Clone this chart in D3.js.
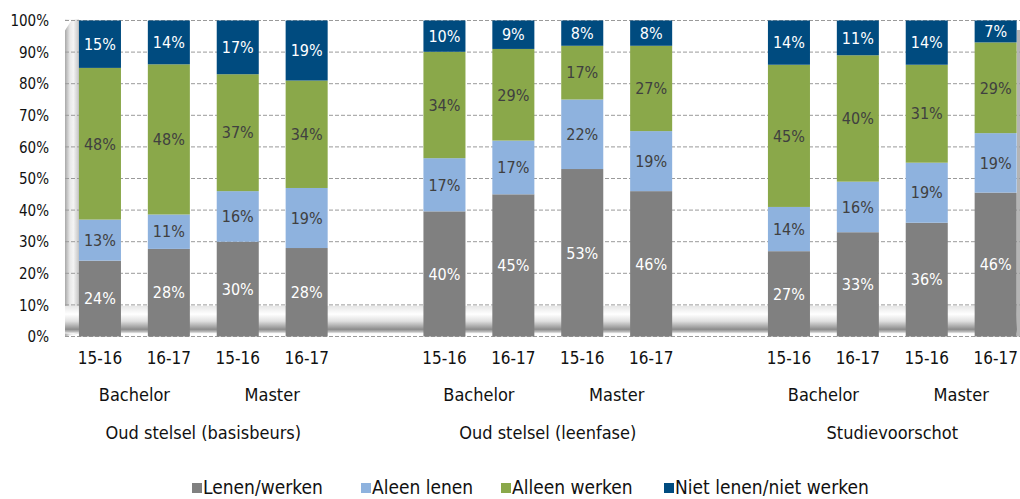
<!DOCTYPE html>
<html><head><meta charset="utf-8">
<script src="https://cdn.jsdelivr.net/npm/d3@7"></script>
<style>
html,body{margin:0;padding:0;background:#fff;}
svg{display:block;}
text{font-family:"DejaVu Sans Condensed","Liberation Sans Narrow",sans-serif;}
</style></head>
<body>
<svg id="chart" width="1020" height="499"></svg>
<script>
// ---- data ----
const groupLabels = ["Oud stelsel (basisbeurs)", "Oud stelsel (leenfase)", "Studievoorschot"];
const levelLabels = ["Bachelor", "Master"];
const yearLabels = ["15-16","16-17","15-16","16-17","15-16","16-17","15-16","16-17","15-16","16-17","15-16","16-17"];
const seriesNames = ["Lenen/werken", "Aleen lenen", "Alleen werken", "Niet lenen/niet werken"];
const lenenWerken   = [24, 28, 30, 28, 40, 45, 53, 46, 27, 33, 36, 46];
const aleenLenen    = [13, 11, 16, 19, 17, 17, 22, 19, 14, 16, 19, 19];
const alleenWerken  = [48, 48, 37, 34, 34, 29, 17, 27, 45, 40, 31, 29];
const nietLenen     = [15, 14, 17, 19, 10,  9,  8,  8, 14, 11, 14,  7];
const yTicks = [0, 0.1, 0.2, 0.3, 0.4, 0.5, 0.6, 0.7, 0.8, 0.9, 1];

const colors = ["#808080", "#8EB2DE", "#8AA84A", "#004B7F"];
const labelColors = ["#ffffff", "#404040", "#404040", "#ffffff"];
const seriesData = [lenenWerken, aleenLenen, alleenWerken, nietLenen];

// slot positions: 4 bars per group, one empty slot between groups
const slotOf = i => i + Math.floor(i / 4);
const nSlots = yearLabels.length + groupLabels.length - 1;

const svg = d3.select("#chart");
const x = d3.scaleBand().domain(d3.range(nSlots)).range([65.5, 1030.1]).paddingInner(0.39).paddingOuter(0.195);
const y = d3.scaleLinear().domain([0, 1]).range([336.5, 20.5]);

const defs = svg.append("defs");
const fg = defs.append("linearGradient").attr("id", "floorG").attr("x1", 0).attr("x2", 0).attr("y1", 0).attr("y2", 1);
[["0%","#e6e6e6"],["30%","#ffffff"],["55%","#e0e0e0"],["85%","#8c8c8c"],["93%","#b8b8b8"],["100%","#f6f6f6"]]
  .forEach(([o,c]) => fg.append("stop").attr("offset", o).attr("stop-color", c));
const wg = defs.append("linearGradient").attr("id", "wallG").attr("x1", 0).attr("x2", 1).attr("y1", 0).attr("y2", 0);
[["0%","#a8a8a8"],["35%","#e8e8e8"],["60%","#f4f4f4"],["100%","#c4c4c4"]]
  .forEach(([o,c]) => wg.append("stop").attr("offset", o).attr("stop-color", c));

const plotLeft = 65, plotRight = 1020;
// left wall
svg.append("path")
  .attr("d", `M${plotLeft},${y(1)-1} L${plotLeft+14},${y(1)-1} L${plotLeft+14},${y(0)-3} L${plotLeft},${y(0)} Z`)
  .attr("fill", "url(#wallG)");
svg.append("path")
  .attr("d", `M${plotLeft},${y(1)-1} L${plotLeft+7},${y(1)-1} L${plotLeft},${y(1)+10} Z`)
  .attr("fill", "#ffffff");
// floor
svg.append("rect").attr("x", plotLeft).attr("y", y(0.1) + 1).attr("width", 1017 - plotLeft)
  .attr("height", y(0) - y(0.1) - 4).attr("fill", "url(#floorG)");
// right edge
svg.append("rect").attr("x", 1017).attr("y", y(0.97)).attr("width", 3).attr("height", y(0) - y(0.97))
  .attr("fill", "#b4b4b4");

// gridlines
svg.append("g").selectAll("line").data(yTicks).join("line")
  .attr("x1", plotLeft).attr("x2", plotRight)
  .attr("y1", d => y(d)).attr("y2", d => y(d))
  .attr("stroke", "#9a9a9a").attr("stroke-width", 1).attr("stroke-dasharray", "4,2");

// y axis
const yAxis = d3.axisLeft(y).tickValues(yTicks).tickFormat(d3.format(".0%")).tickSize(0).tickPadding(0);
const ya = svg.append("g").attr("transform", "translate(49,0)").call(yAxis);
ya.select(".domain").remove();
ya.selectAll("text").attr("font-size", 15).attr("fill", "#111").attr("dy", "0.35em")
  .style("font-family", '"DejaVu Sans Condensed",sans-serif');

// stacked bars (100% stacked)
const rows = yearLabels.map((yl, i) => {
  const vals = seriesData.map(s => s[i]);
  const total = d3.sum(vals);
  return { i, vals, total };
});
const bw = x.bandwidth();
rows.forEach(r => {
  let cum = 0;
  r.vals.forEach((v, k) => {
    const y0 = cum / r.total, y1 = (cum + v) / r.total;
    cum += v;
    const x0 = x(slotOf(r.i));
    svg.append("rect").attr("x", x0).attr("width", bw)
      .attr("y", y(y1)).attr("height", y(y0) - y(y1)).attr("fill", colors[k]);
    svg.append("text").attr("x", x0 + bw / 2).attr("y", (y(y0) + y(y1)) / 2)
      .attr("dy", "0.36em").attr("text-anchor", "middle")
      .attr("font-size", 16).attr("fill", labelColors[k]).text(v + "%");
  });
});

// x labels: years
svg.append("g").selectAll("text").data(yearLabels).join("text")
  .attr("x", (d, i) => x(slotOf(i)) + bw / 2).attr("y", 364)
  .attr("text-anchor", "middle").attr("font-size", 17)
  .attr("fill", "#111").text(d => d);
// levels
const levelItems = [];
groupLabels.forEach((g, gi) => levelLabels.forEach((l, li) => levelItems.push({ l, first: gi * 4 + li * 2 })));
svg.append("g").selectAll("text").data(levelItems).join("text")
  .attr("x", d => (x(slotOf(d.first)) + x(slotOf(d.first + 1)) + bw) / 2).attr("y", 401)
  .attr("text-anchor", "middle").attr("font-size", 18).attr("fill", "#111").text(d => d.l);
// groups
svg.append("g").selectAll("text").data(groupLabels).join("text")
  .attr("x", (d, gi) => (x(slotOf(gi * 4)) + x(slotOf(gi * 4 + 3)) + bw) / 2).attr("y", 439)
  .attr("text-anchor", "middle").attr("font-size", 18).attr("fill", "#111").text(d => d);

// legend
const legendX = [192, 361, 501, 664];
const lg = svg.append("g").selectAll("g").data(seriesNames).join("g")
  .attr("transform", (d, i) => `translate(${legendX[i]},0)`);
lg.append("rect").attr("x", 0).attr("y", 483).attr("width", 10).attr("height", 10).attr("fill", (d, i) => colors[i]);
lg.append("text").attr("x", 11).attr("y", 494).attr("font-size", 19).attr("fill", "#111").text(d => d);
</script>
</body></html>
